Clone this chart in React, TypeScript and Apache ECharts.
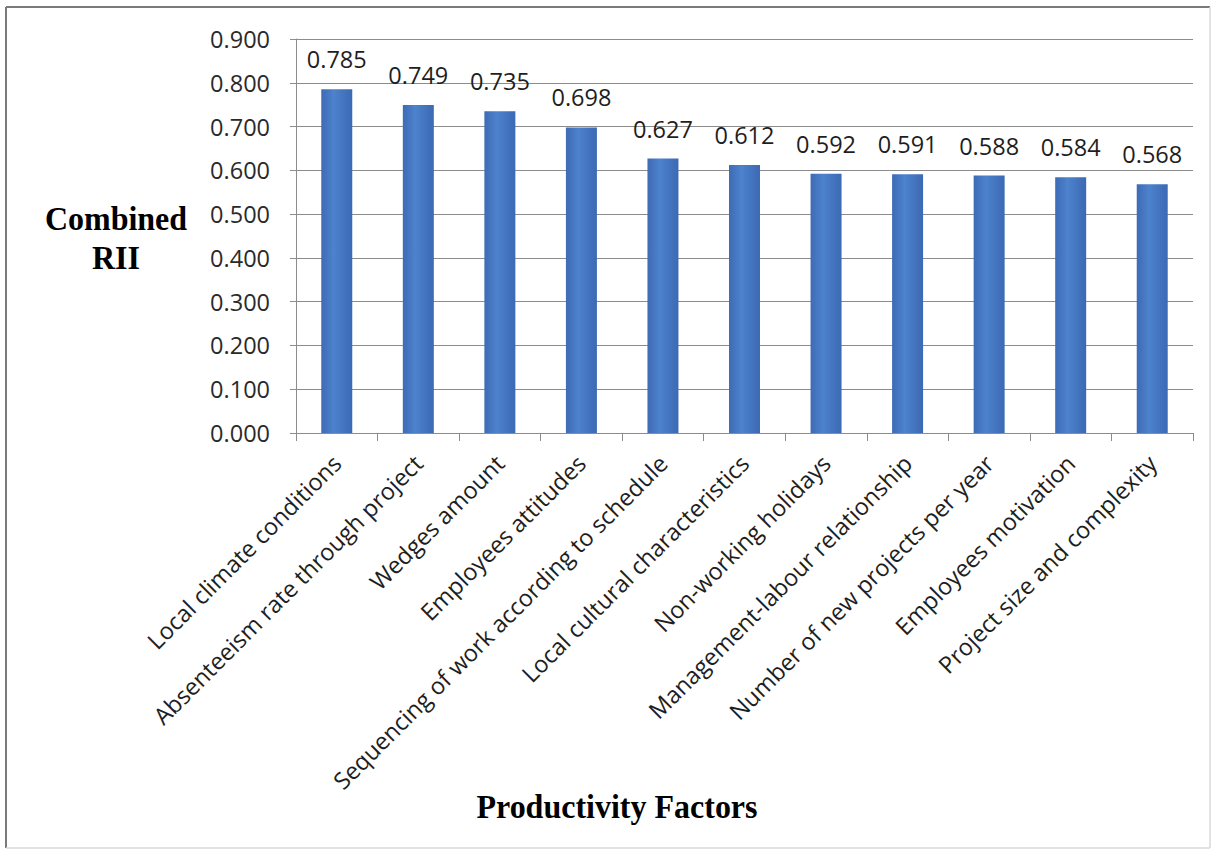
import React, { useEffect, useRef } from "react";
import * as echarts from "echarts";

const factors: string[] = [
  "Local climate conditions",
  "Absenteeism rate through project",
  "Wedges amount",
  "Employees attitudes",
  "Sequencing of work according to schedule",
  "Local cultural characteristics",
  "Non-working holidays",
  "Management-labour relationship",
  "Number of new projects per year",
  "Employees motivation",
  "Project size and complexity",
];

const combinedRII: number[] = [0.785, 0.749, 0.735, 0.698, 0.627, 0.612, 0.592, 0.591, 0.588, 0.584, 0.568];

const yTicks: number[] = [0, 0.1, 0.2, 0.3, 0.4, 0.5, 0.6, 0.7, 0.8, 0.9];

const W = 1220;
const H = 857;

export default function App() {
  const ref = useRef<HTMLDivElement>(null);

  useEffect(() => {
    if (!ref.current) return;
    const chart = echarts.init(ref.current, undefined, { renderer: "svg" });

    const barFill = new echarts.graphic.LinearGradient(0, 0, 1, 0, [
      { offset: 0, color: "#3e6bb6" },
      { offset: 0.4, color: "#4d82cc" },
      { offset: 1, color: "#3c69b4" },
    ]);

    const titleFont = "bold 32px 'Liberation Serif'";

    chart.setOption({
      animation: false,
      backgroundColor: "#ffffff",
      textStyle: { fontFamily: "Open Sans" },
      grid: { left: 296, right: 27, top: 39, bottom: 424, containLabel: false },
      xAxis: {
        type: "category",
        data: factors,
        boundaryGap: true,
        axisLine: { show: true, lineStyle: { color: "#8c8c8c", width: 1 } },
        axisTick: { show: true, alignWithLabel: false, length: 8, lineStyle: { color: "#8c8c8c" } },
        axisLabel: {
          rotate: 45,
          interval: 0,
          margin: 26,
          fontSize: 23.5,
          color: "#1e1e1e",
          fontFamily: "Open Sans",
        },
        splitLine: { show: false },
      },
      yAxis: {
        type: "value",
        min: yTicks[0],
        max: yTicks[yTicks.length - 1],
        interval: 0.1,
        axisLine: { show: true, lineStyle: { color: "#8c8c8c", width: 1 } },
        axisTick: { show: true, length: 6, lineStyle: { color: "#8c8c8c" } },
        axisLabel: {
          fontSize: 23.5,
          color: "#2a2a2a",
          margin: 26,
          fontFamily: "Open Sans",
          formatter: (v: number) => v.toFixed(3),
        },
        splitLine: { show: true, lineStyle: { color: "#8c8c8c", width: 1 } },
      },
      series: [
        {
          type: "bar",
          data: combinedRII,
          barWidth: "38%",
          itemStyle: { color: barFill },
          label: {
            show: true,
            position: "top",
            distance: 18,
            fontSize: 23.5,
            color: "#1e1e1e",
            fontFamily: "Open Sans",
            formatter: (p: any) => Number(p.value).toFixed(3),
          },
        },
      ],
      graphic: [
        // chart frame
        { type: "line", shape: { x1: 6, y1: 7, x2: 1210, y2: 7 }, style: { stroke: "#7a7a7a", lineWidth: 2 } },
        { type: "line", shape: { x1: 6, y1: 7, x2: 6, y2: 848 }, style: { stroke: "#7a7a7a", lineWidth: 2 } },
        { type: "line", shape: { x1: 1210, y1: 7, x2: 1210, y2: 848 }, style: { stroke: "#d8d8d8", lineWidth: 1.5 } },
        { type: "line", shape: { x1: 6, y1: 848, x2: 1210, y2: 848 }, style: { stroke: "#d8d8d8", lineWidth: 1.5 } },
        {
          type: "text",
          x: 116,
          y: 218,
          scaleY: 1.08,
          style: { text: "Combined", font: titleFont, fill: "#000", align: "center", verticalAlign: "middle" },
        },
        {
          type: "text",
          x: 116,
          y: 257,
          scaleY: 1.08,
          style: { text: "RII", font: titleFont, fill: "#000", align: "center", verticalAlign: "middle" },
        },
        {
          type: "text",
          x: 617,
          y: 806,
          scaleY: 1.08,
          style: { text: "Productivity Factors", font: titleFont, fill: "#000", align: "center", verticalAlign: "middle" },
        },
      ],
    });

    return () => chart.dispose();
  }, []);

  return (
    <div
      ref={ref}
      style={{ position: "fixed", left: 0, top: 0, width: W, height: H, background: "#fff" }}
    />
  );
}
